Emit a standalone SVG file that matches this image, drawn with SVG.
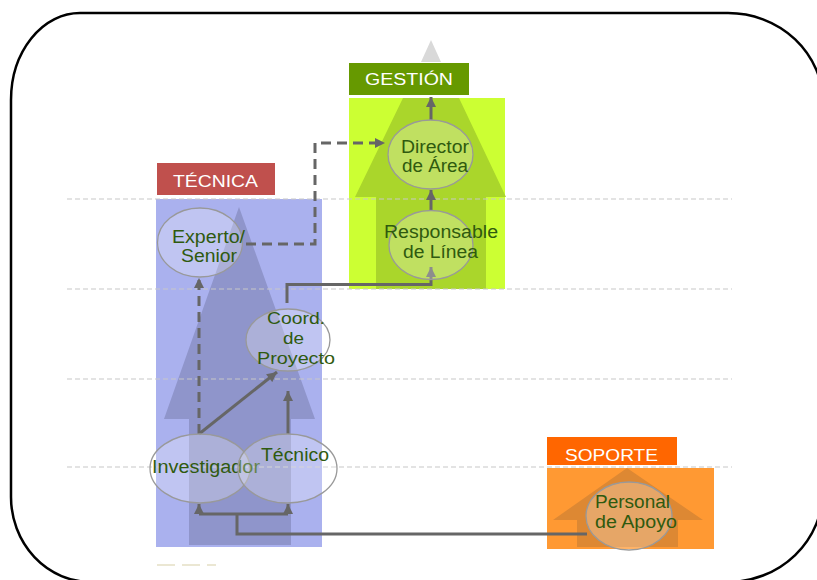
<svg xmlns="http://www.w3.org/2000/svg" width="817" height="580" viewBox="0 0 817 580">
  <style>
    .frame { fill: none; stroke: #000; stroke-width: 2.5; }
    .grid { stroke: #c8c8c8; stroke-width: 1.2; stroke-dasharray: 5 3; fill: none; }
    .tag { font-family: "Liberation Sans", Arial, sans-serif; font-size: 16px; fill: #fff; }
    .lbl { font-family: "Liberation Sans", Arial, sans-serif; font-size: 18px; fill: #2f5a0f; }
    .tight { font-size: 16.5px; }
    .node { fill: #fff; fill-opacity: 0.26; stroke: #999; stroke-width: 1.3; }
    .link { fill: none; stroke: #666; stroke-width: 3; }
    .dash { stroke-dasharray: 10 6; }
  </style>
  <defs>
    <marker id="head" viewBox="0 0 10 10" refX="10" refY="5" markerWidth="11" markerHeight="10" markerUnits="userSpaceOnUse" orient="auto">
      <path d="M0,0 L10,5 L0,10 z" fill="#666"/>
    </marker>
  </defs>

  <!-- outer rounded frame -->
  <path class="frame" d="M80,13 H728 A95 90 0 0 1 823 103 V490 A95 92 0 0 1 728 582 H91 A80 85 0 0 1 11 497 V100 A69 87 0 0 1 80 13 Z"/>

  <!-- TÉCNICA column -->
  <g id="tecnica">
    <rect x="157" y="163" width="118" height="32" fill="#c0504d"/>
    <text class="tag" x="173" y="187" textLength="85" lengthAdjust="spacingAndGlyphs">TÉCNICA</text>
    <rect x="156" y="199" width="166" height="348" fill="#aab1ee"/>
    <path d="M239,207 L315,419 H291 V545 H189 V419 H164 Z" fill="#8f95cb"/>
  </g>

  <!-- GESTIÓN column -->
  <g id="gestion">
    <path d="M431,40 L441,62 H421 Z" fill="#d9d9d9"/>
    <rect x="349" y="63" width="120" height="32" fill="#669900"/>
    <text class="tag" x="365" y="85" textLength="88" lengthAdjust="spacingAndGlyphs">GESTIÓN</text>
    <rect x="349" y="98" width="156" height="191" fill="#ccff33"/>
    <path d="M403,98 H459 L506,197 H486 V289 H376 V197 H355 Z" fill="#aad62b"/>
  </g>

  <!-- SOPORTE column -->
  <g id="soporte">
    <rect x="547" y="437" width="130" height="28" fill="#ff6600"/>
    <text class="tag" x="565" y="461" textLength="93" lengthAdjust="spacingAndGlyphs">SOPORTE</text>
    <rect x="547" y="468" width="167" height="81" fill="#ff9933"/>
    <path d="M627,468 L703,520 H678 V547 H577 V520 H553 Z" fill="#dd8833"/>
  </g>

  <!-- level guides -->
  <g id="levels">
    <line class="grid" x1="67" y1="199" x2="732" y2="199"/>
    <line class="grid" x1="67" y1="289" x2="732" y2="289"/>
    <line class="grid" x1="67" y1="379" x2="732" y2="379"/>
    <line class="grid" x1="67" y1="467" x2="732" y2="467"/>
    <line x1="157" y1="565" x2="216" y2="565" stroke="#ebe7d3" stroke-width="2" stroke-dasharray="18 7"/>
  </g>

  <!-- connectors -->
  <g id="connectors">
    <path class="link" d="M431,120 V97" marker-end="url(#head)"/>
    <path class="link" d="M431,211 V190" marker-end="url(#head)"/>
    <path class="link" d="M287,303 V284.5 H431 V267" marker-end="url(#head)"/>
    <path class="link dash" d="M246,244 H315 V143 H385" marker-end="url(#head)"/>
    <path class="link dash" d="M199,434 V278" marker-end="url(#head)"/>
    <path class="link" d="M199,434 L277,372" marker-end="url(#head)"/>
    <path class="link" d="M288,434 V391" marker-end="url(#head)"/>
    <path class="link" d="M587,534 H237 V514"/>
    <path class="link" d="M199,514 H288"/>
    <path class="link" d="M199,514 V504" marker-end="url(#head)"/>
    <path class="link" d="M288,514 V504" marker-end="url(#head)"/>
  </g>

  <!-- nodes -->
  <g id="director">
    <ellipse class="node" cx="430.5" cy="154.5" rx="42.5" ry="34.5"/>
    <text class="lbl" x="401" y="153" textLength="68" lengthAdjust="spacingAndGlyphs">Director</text>
    <text class="lbl" x="402" y="172" textLength="66" lengthAdjust="spacingAndGlyphs">de Área</text>
  </g>
  <g id="responsable">
    <ellipse class="node" cx="431" cy="245" rx="42" ry="34.5"/>
    <text class="lbl" x="384" y="238" textLength="114" lengthAdjust="spacingAndGlyphs">Responsable</text>
    <text class="lbl" x="403" y="258" textLength="75" lengthAdjust="spacingAndGlyphs">de Línea</text>
  </g>
  <g id="experto">
    <ellipse class="node" cx="200" cy="242.5" rx="42.5" ry="34.5"/>
    <text class="lbl" x="172" y="243" textLength="73" lengthAdjust="spacingAndGlyphs">Experto/</text>
    <text class="lbl" x="181" y="262" textLength="56" lengthAdjust="spacingAndGlyphs">Senior</text>
  </g>
  <g id="coordinador">
    <ellipse class="node" cx="288" cy="340" rx="42" ry="31"/>
    <text class="lbl tight" x="267" y="324" textLength="58" lengthAdjust="spacingAndGlyphs">Coord.</text>
    <text class="lbl tight" x="283" y="344" textLength="21" lengthAdjust="spacingAndGlyphs">de</text>
    <text class="lbl tight" x="257" y="364" textLength="78" lengthAdjust="spacingAndGlyphs">Proyecto</text>
  </g>
  <g id="investigador">
    <ellipse class="node" cx="200" cy="468.5" rx="50" ry="34.5"/>
    <text class="lbl" x="152" y="473" textLength="108" lengthAdjust="spacingAndGlyphs">Investigador</text>
  </g>
  <g id="tecnico">
    <ellipse class="node" cx="287.5" cy="468.5" rx="49.5" ry="34.5"/>
    <text class="lbl" x="261" y="461" textLength="68" lengthAdjust="spacingAndGlyphs">Técnico</text>
  </g>
  <g id="personal">
    <ellipse class="node" cx="629" cy="516" rx="43" ry="34"/>
    <text class="lbl" x="595" y="508" textLength="75" lengthAdjust="spacingAndGlyphs">Personal</text>
    <text class="lbl" x="595" y="528" textLength="82" lengthAdjust="spacingAndGlyphs">de Apoyo</text>
  </g>
</svg>
